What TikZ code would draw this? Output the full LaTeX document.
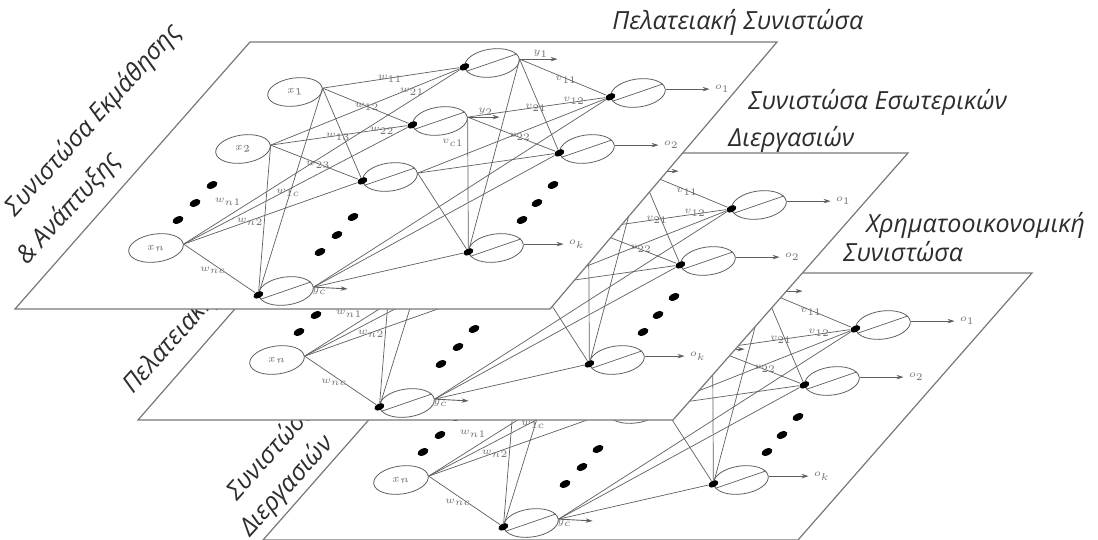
\documentclass[tikz,border=0pt]{standalone}
\usepackage{fontspec}
\setmainfont{Open Sans}
\usetikzlibrary{arrows.meta,positioning,calc,shapes.geometric}
\definecolor{PlaneGray}{RGB}{120,120,120}
\definecolor{LinkGray}{RGB}{95,95,95}
\definecolor{TitleGray}{RGB}{45,45,45}

\tikzset{
 plane/.style={draw=PlaneGray,line width=0.6pt,fill=white},
 title/.style={font=\fontsize{12.5}{14}\selectfont\itshape,text=TitleGray,inner sep=0pt,anchor=base west},
 sidetitle/.style={title,rotate=48,align=left},
 unit/.style={ellipse,draw=LinkGray,line width=0.4pt,minimum width=27.5pt,minimum height=14pt,
  inner sep=0pt,rotate=8,font=\fontsize{3}{3.5}\selectfont,text=black!60},
 blob/.style={ellipse,fill=black,minimum width=5.2pt,minimum height=3.3pt,inner sep=0pt,rotate=25},
 dotmark/.style={ellipse,fill=black,minimum width=5.8pt,minimum height=3.4pt,inner sep=0pt,rotate=25},
 link/.style={draw=LinkGray,line width=0.35pt},
 outarrow/.style={-{Stealth[length=3.5pt,width=2.2pt]},draw=LinkGray,line width=0.45pt,shorten >=2pt},
 wlbl/.style={font=\fontsize{3}{3.5}\selectfont,inner sep=0.4pt,text=black!55},
}

% labels hidden by the plane above are only set on the top plane
\newif\iffullnet

% one network of the scorecard, #1 = prefix of the node names
\newcommand{\drawnet}[1]{%
 % input layer
 \node[unit] (#1x1) at (295,92) {\iffullnet$x_1$\fi};
 \node[unit] (#1x2) at (243,149) {\iffullnet$x_2$\fi};
 \node[unit] (#1xn) at (156,248) {$x_n$};
 \node[dotmark] (#1xa) at (212,185) {};
 \node[dotmark] (#1xb) at (195,203) {};
 \node[dotmark] (#1xc) at (178,220) {};
 % hidden layer
 \node[unit] (#1h1) at (492,63) {};
 \node[unit] (#1h2) at (440,121) {};
 \node[unit] (#1h3) at (390,177) {};
 \node[unit] (#1hc) at (286,291) {};
 \node[dotmark] (#1ha) at (353,217) {};
 \node[dotmark] (#1hb) at (337,235) {};
 \node[dotmark] (#1hcc) at (320,252) {};
 % output layer
 \node[unit] (#1o1) at (638,93) {};
 \node[unit] (#1o2) at (587,149) {};
 \node[unit] (#1ok) at (496,248) {};
 \node[dotmark] (#1oa) at (553,185) {};
 \node[dotmark] (#1ob) at (537,203) {};
 \node[dotmark] (#1oc) at (522,220) {};
 \foreach \nd in {h1,h2,h3,hc,o1,o2,ok}{
  \node[blob] (#1\nd-in) at (#1\nd.west) {};
  \draw[link] (#1\nd.190) -- (#1\nd.12);
 }
 % weights
 \foreach \src in {x1,x2,xn}
  \foreach \dst in {h1,h2,h3,hc}
   \draw[link] (#1\src.east) -- (#1\dst-in);
 \foreach \src in {h1,h2,h3,hc}
  \foreach \dst in {o1,o2,ok}
   \draw[link] (#1\src.east) -- (#1\dst-in);
 \iffullnet
  \node[wlbl] (#1w11) at (390,79) {$w_{11}$};
  \node[wlbl] (#1w21) at (412,92) {$w_{21}$};
  \node[wlbl] (#1w12) at (367,107) {$w_{12}$};
  \node[wlbl] (#1w22) at (382,131) {$w_{22}$};
  \node[wlbl] (#1w13) at (338,137) {$w_{13}$};
  \node[wlbl] (#1w23) at (318,165) {$w_{23}$};
  \node[wlbl] (#1vc1) at (453,143) {$v_{c1}$};
 \fi
 \node[wlbl] (#1w1c) at (288,193) {$w_{1c}$};
 \node[wlbl] (#1wn1) at (228,202) {$w_{n1}$};
 \node[wlbl] (#1wn2) at (250,222) {$w_{n2}$};
 \node[wlbl] (#1wnc) at (213,270) {$w_{nc}$};
 \node[wlbl] (#1v11) at (566,80) {$v_{11}$};
 \node[wlbl] (#1v12) at (574,101) {$v_{12}$};
 \node[wlbl] (#1v21) at (536,108) {$v_{21}$};
 \node[wlbl] (#1v22) at (520,137) {$v_{22}$};
 % outputs
 \coordinate (#1y1) at ($(#1h1.east)+(42,0)$);
 \coordinate (#1y2) at ($(#1h2.east)+(36,0)$);
 \coordinate (#1yc) at ($(#1hc.east)+(38,2)$);
 \draw[outarrow] (#1h1.east) -- node[wlbl,above] {\iffullnet$y_1$\fi} (#1y1);
 \draw[outarrow] (#1h2.east) -- node[wlbl,above] {\iffullnet$y_2$\fi} (#1y2);
 \draw[outarrow] (#1hc.east) -- node[wlbl,below,pos=0.15] {$y_c$} (#1yc);
 \node[wlbl,right=24pt of #1o1] (#1o1l) {$o_1$};
 \node[wlbl,right=24pt of #1o2] (#1o2l) {$o_2$};
 \node[wlbl,right=22pt of #1ok] (#1okl) {$o_k$};
 \draw[outarrow] (#1o1.east) -- (#1o1l.west);
 \draw[outarrow] (#1o2.east) -- (#1o2l.west);
 \draw[outarrow] (#1ok.east) -- (#1okl.west);
}

\begin{document}
\begin{tikzpicture}[x=0.5pt,y=-0.5pt]
\useasboundingbox (0,0) rectangle (1098,540);

% financial perspective (bottom)
\fullnetfalse
\node[sidetitle,font=\fontsize{12.5}{17}\selectfont\itshape] (labc) at (250,538)
 {\hspace*{9pt}Συνιστώσα\\Διεργασιών};
\draw[plane] (498,273) -- (1032,273) -- (798,540) -- (263,540) -- cycle;
\begin{scope}[shift={(245,232)}]
 \drawnet{c}
\end{scope}
\node[title] (titc1) at (866,232) {Χρηματοοικονομική};
\node[title] (titc2) at (843,261) {Συνιστώσα};

% internal processes (middle)
\node[sidetitle] (labb) at (133,395) {Πελατειακή};
\draw[plane] (371,153) -- (908,153) -- (673,420) -- (138,420) -- cycle;
\begin{scope}[shift={(121,112)}]
 \drawnet{b}
\end{scope}
\node[title] (titb1) at (748,110) {Συνιστώσα Εσωτερικών};
\node[title] (titb2) at (728,147) {Διεργασιών};

% learning and growth (top)
\fullnettrue
\node[sidetitle,font=\fontsize{12.5}{20.5}\selectfont\itshape] (laba) at (27,266)
 {\hspace*{14pt}Συνιστώσα Εκμάθησης\\\& Ανάπτυξης};
\draw[plane] (250,42) -- (777,42) -- (550,309) -- (15,309) -- cycle;
\drawnet{a}
\node[title] (tita) at (612,30) {Πελατειακή Συνιστώσα};
\end{tikzpicture}
\end{document}
